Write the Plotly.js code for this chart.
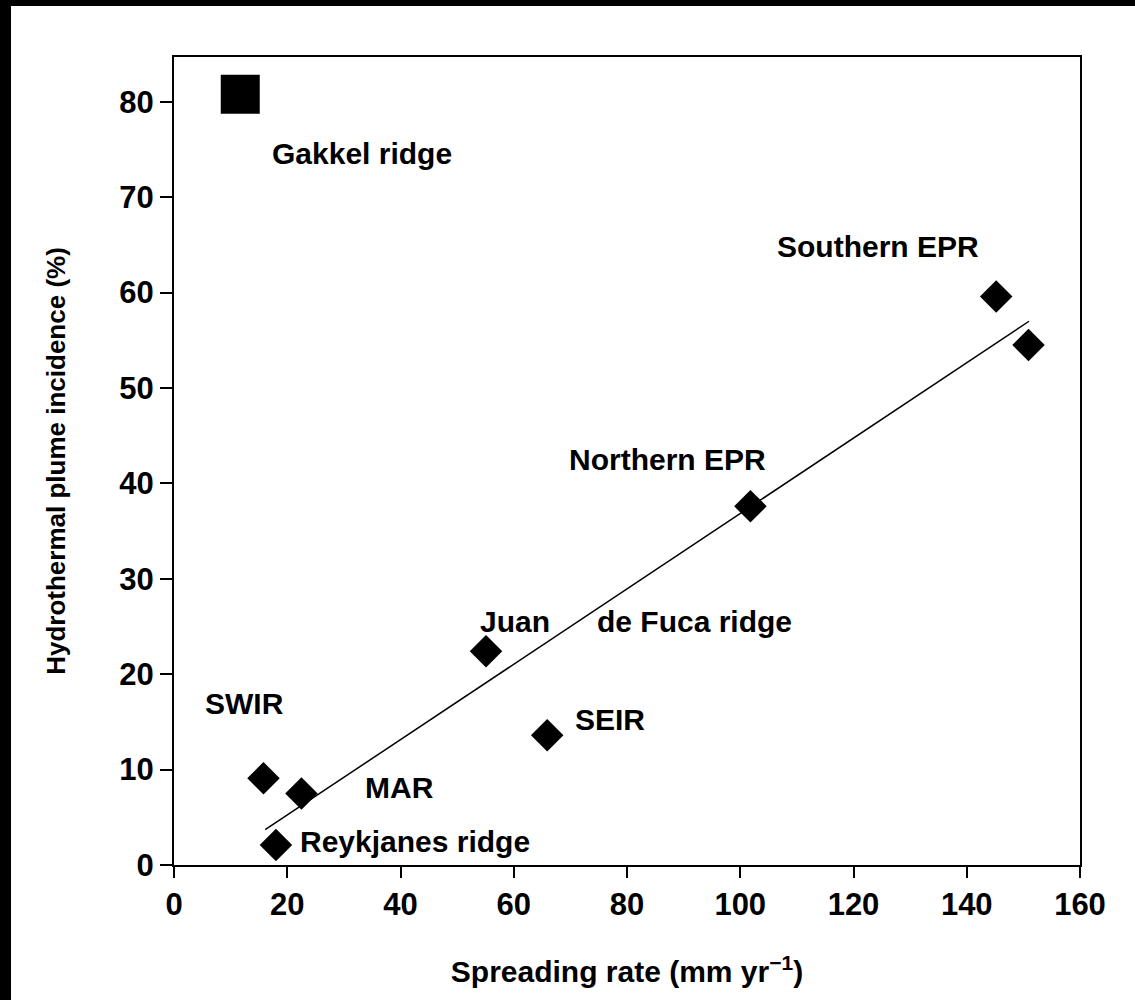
<!DOCTYPE html>
<html>
<head>
<meta charset="utf-8">
<script src="https://cdn.plot.ly/plotly-3.0.1.min.js"></script>
<style>
  html, body { margin: 0; padding: 0; background: #000; }
  #chart { position: absolute; left: 11px; top: 6px; width: 1124px; height: 994px; background: #fff; }
</style>
</head>
<body>
<div id="chart"></div>
<script>
// Ridge data: spreading rate (mm/yr) vs hydrothermal plume incidence (%)
const diamondRate      = [15.8, 22.5, 18.0, 55.1, 65.9, 101.8, 145.2, 150.9];
const diamondIncidence = [9.1, 7.5, 2.1, 22.4, 13.6, 37.6, 59.6, 54.5];
const gakkelRate       = [11.7];
const gakkelIncidence  = [80.8];
// Regression line endpoints
const fitRate      = [16.1, 151.0];
const fitIncidence = [3.7, 57.0];
// Labels
const labelText = ["Gakkel ridge", "Southern EPR", "Northern EPR", "Juan", "de Fuca ridge", "SEIR", "SWIR", "MAR", "Reykjanes ridge"];
const labelRate = [17.0, 106.1, 69.4, 53.7, 74.3, 70.5, 5.1, 33.4, 21.9];
const labelIncidence = [74.6, 64.8, 42.5, 25.5, 25.5, 15.3, 16.9, 8.1, 2.5];
// Ticks
const xTicks = [0, 20, 40, 60, 80, 100, 120, 140, 160];
const yTicks = [0, 10, 20, 30, 40, 50, 60, 70, 80];

const FONT = "'Liberation Sans', Arial, Helvetica, sans-serif";

const traces = [
  {
    x: fitRate, y: fitIncidence, mode: 'lines', type: 'scatter',
    line: { color: '#000', width: 1.5 }, hoverinfo: 'skip', cliponaxis: false
  },
  {
    x: diamondRate, y: diamondIncidence, mode: 'markers', type: 'scatter',
    marker: { symbol: 'diamond', size: 25, color: '#000', line: { width: 0 } },
    cliponaxis: false
  },
  {
    x: gakkelRate, y: gakkelIncidence, mode: 'markers', type: 'scatter',
    marker: { symbol: 'square', size: 39, color: '#000', line: { width: 0 } },
    cliponaxis: false
  }
];

const annotations = labelText.map((t, i) => ({
  x: labelRate[i], y: labelIncidence[i], xref: 'x', yref: 'y',
  text: t, showarrow: false, xanchor: 'left', yanchor: 'middle',
  font: { family: FONT, size: 30, color: '#000', weight: 'bold' }
}));

const layout = {
  width: 1124, height: 994,
  margin: { l: 163, r: 55, t: 51, b: 135 },
  paper_bgcolor: '#fff', plot_bgcolor: '#fff',
  showlegend: false,
  font: { family: FONT, color: '#000' },
  xaxis: {
    range: [0, 160], tickvals: xTicks, ticktext: xTicks.map(String),
    showgrid: false, zeroline: false, showline: true, mirror: true,
    linecolor: '#000', linewidth: 2, ticks: 'outside', ticklen: 11, tickwidth: 2, tickcolor: '#000',
    tickfont: { family: FONT, size: 31, color: '#000', weight: 'bold' },
    title: { text: 'Spreading rate (mm yr<sup>\u22121</sup>)', standoff: 40,
             font: { family: FONT, size: 30, color: '#000', weight: 'bold' } }
  },
  yaxis: {
    range: [0, 84.7], tickvals: yTicks, ticktext: yTicks.map(String),
    showgrid: false, zeroline: false, showline: true, mirror: true,
    linecolor: '#000', linewidth: 2, ticks: 'outside', ticklen: 12, tickwidth: 2, tickcolor: '#000',
    tickfont: { family: FONT, size: 31, color: '#000', weight: 'bold' },
    title: { text: 'Hydrothermal plume incidence (%)', standoff: 46,
             font: { family: FONT, size: 26, color: '#000', weight: 'bold' } }
  },
  annotations: annotations
};

Plotly.newPlot('chart', traces, layout, { displayModeBar: false, staticPlot: true });
</script>
</body>
</html>
